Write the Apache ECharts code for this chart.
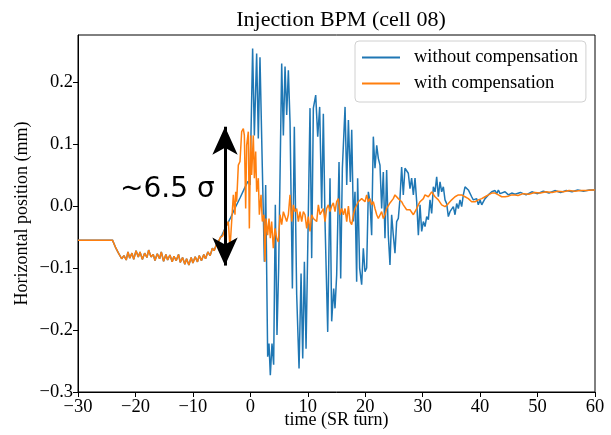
<!DOCTYPE html>
<html lang="en">
<head>
<meta charset="UTF-8">
<title>Injection BPM</title>
<script src="https://cdn.jsdelivr.net/npm/echarts@6/dist/echarts.min.js"></script>
<style>
  html, body { margin: 0; padding: 0; background: #fff; }
  #main { width: 611px; height: 435px; }
</style>
</head>
<body>
<div id="main"></div>
<script type="text/javascript">
// shared drift before the kick (both signals overlap here)
var tBase = [-30, -27, -24, -23.7, -23.4, -23.0, -22.7, -22.4, -22.0, -21.6, -21.3, -21.0, -20.6, -20.3, -19.9, -19.5, -19.2, -18.8, -18.4, -18.0,
  -17.7, -17.3, -16.9, -16.6, -16.2, -15.8, -15.5, -15.1, -14.7, -14.4, -14.0, -13.6, -13.3, -12.9, -12.5, -12.2, -11.8, -11.4, -11.1, -10.7,
  -10.3, -10.0, -9.6, -9.2, -8.9, -8.5, -8.1, -7.8, -7.4, -7.0, -6.6, -6.3];
var vBase = [-0.055, -0.055, -0.055, -0.056, -0.068, -0.075, -0.072, -0.085, -0.080, -0.087, -0.074, -0.084, -0.076, -0.086, -0.072, -0.082, -0.074, -0.086, -0.076, -0.083,
  -0.071, -0.082, -0.078, -0.088, -0.077, -0.085, -0.074, -0.089, -0.078, -0.087, -0.079, -0.090, -0.081, -0.088, -0.078, -0.091, -0.083, -0.094, -0.085, -0.095,
  -0.083, -0.092, -0.082, -0.090, -0.080, -0.088, -0.078, -0.085, -0.074, -0.080, -0.068, -0.072];

// without compensation
var tBlue = [-6.0, -5.5, -4.9, -4.4, -3.5, -2.7, -1.8, -0.9, -0.4, -0.06, 0.40, 0.70, 1.10, 1.39, 1.68, 2.09, 2.44, 2.67, 3.02, 3.25,
  3.48, 3.77, 4.06, 4.35, 4.64, 4.93, 5.46, 5.75, 6.04, 6.33, 6.62, 6.91, 7.32, 7.66, 8.07, 8.48, 8.83, 9.12, 9.41, 9.70,
  10.1, 10.39, 10.68, 10.97, 11.38, 11.73, 12.07, 12.42, 12.71, 13.0, 13.47, 13.87, 14.16, 14.51, 14.74, 15.03, 15.44, 15.73, 16.02, 16.49,
  16.78, 17.07, 17.41, 17.65, 17.94, 18.22, 18.51, 18.68, 19.03, 19.38, 19.67, 19.96, 20.25, 20.54, 20.83, 21.12, 21.41, 21.7, 22.0, 22.28,
  22.57, 22.86, 23.15, 23.44, 23.73, 24.02, 24.31, 24.6, 24.89, 25.18, 25.47, 25.76, 26.05, 26.34, 26.63, 26.92, 27.21, 27.5, 27.79, 28.08,
  28.38, 28.67, 28.96, 29.25, 29.54, 29.83, 30.12, 30.41, 30.7, 30.99, 31.28, 31.57, 31.86, 32.15, 32.44, 32.73, 33.02, 33.31, 33.6, 33.89,
  34.18, 34.47, 34.76, 35.05, 35.34, 35.63, 35.92, 36.21, 36.5, 36.79, 37.08, 37.37, 37.66, 37.95, 38.24, 38.53, 38.82, 39.11, 39.4, 39.69,
  39.98, 40.28, 40.57, 40.86, 41.15, 41.44, 41.73, 42.02, 42.31, 42.6, 42.89, 43.18, 43.47, 43.76, 44.34, 44.92, 45.5, 46.08, 47, 48,
  49, 50, 51, 52, 53, 54, 55, 56, 57, 58, 59, 60];
var vBlue = [-0.064, -0.056, -0.046, -0.036, -0.020, -0.004, 0.013, 0.031, 0.040, 0.034, 0.254, 0.114, 0.246, 0.109, 0.240, 0.061, -0.090, 0.034, -0.243, -0.222,
  -0.273, -0.222, -0.256, 0.002, -0.208, -0.100, 0.230, 0.114, 0.225, 0.147, 0.219, 0.136, -0.133, 0.128, -0.143, -0.262, -0.109, -0.246, -0.090, -0.230,
  -0.009, 0.158, -0.084, 0.158, 0.179, 0.112, 0.160, -0.004, 0.149, -0.025, -0.203, 0.045, -0.186, -0.133, -0.165, -0.111, 0.071, -0.117, 0.061, 0.160,
  0.034, 0.139, 0.039, 0.123, -0.025, 0.023, -0.122, 0.045, -0.100, -0.127, -0.068, -0.106, -0.100, 0.023, 0.007, -0.047, 0.112, 0.061, 0.098, 0.077,
  0.066, -0.004, 0.055, -0.052, 0.058, -0.047, -0.095, -0.014, -0.047, -0.076, -0.025, -0.020, 0.012, 0.063, 0.018, 0.061, 0.063, 0.053, 0.028, 0.045,
  0.018, 0.045, 0.007, -0.047, 0.002, -0.041, -0.025, -0.033, -0.017, -0.022, 0.010, -0.012, 0.031, 0.023, 0.047, 0.015, 0.039, 0.023, 0.031, 0.010,
  0.004, -0.017, -0.009, -0.012, -0.001, -0.014, 0.004, -0.004, 0.010, -0.001, 0.018, 0.031, 0.028, 0.026, 0.023, 0.015, 0.010, 0.007, 0.012, 0.002,
  0.010, 0.002, 0.007, 0.012, 0.010, 0.018, 0.015, 0.023, 0.020, 0.025, 0.020, 0.026, 0.020, 0.018, 0.023, 0.018, 0.021, 0.019, 0.022, 0.018,
  0.023, 0.020, 0.024, 0.021, 0.025, 0.022, 0.025, 0.023, 0.026, 0.024, 0.026, 0.026];

// with compensation
var tOrange = [-5.9, -5.57, -5.2, -4.8, -4.41, -3.83, -3.54, -3.25, -2.96, -2.67, -2.55, -2.38, -2.09, -1.8, -1.51, -1.22, -1.04, -0.81, -0.64, -0.35,
  -0.17, 0.06, 0.23, 0.52, 0.70, 0.93, 1.10, 1.39, 1.57, 1.86, 2.09, 2.38, 2.55, 2.73, 3.02, 3.25, 3.48, 3.71, 4.0, 4.29,
  4.59, 4.88, 5.17, 5.46, 5.75, 6.04, 6.33, 6.62, 6.91, 7.2, 7.49, 7.78, 8.07, 8.36, 8.65, 8.94, 9.23, 9.52, 9.81, 10.1,
  10.39, 10.68, 10.97, 11.26, 11.55, 11.84, 12.13, 12.42, 12.71, 13.0, 13.29, 13.58, 13.87, 14.16, 14.45, 14.74, 15.03, 15.32, 15.61, 15.9,
  16.2, 16.49, 16.78, 17.07, 17.36, 17.65, 17.94, 18.22, 18.8, 19.38, 19.96, 20.25, 20.54, 20.83, 21.12, 21.41, 21.7, 22.0, 22.28, 22.57,
  22.86, 23.15, 23.44, 23.73, 24.02, 24.31, 24.6, 24.89, 25.18, 25.47, 25.76, 26.05, 26.34, 26.63, 26.92, 27.21, 27.5, 27.79, 28.08, 28.38,
  28.67, 28.96, 29.25, 29.54, 29.83, 30.12, 30.41, 30.99, 31.57, 32.15, 32.73, 33.31, 33.89, 34.47, 35.05, 35.63, 36.21, 36.79, 37.37, 37.95,
  38.53, 39.11, 39.69, 40.28, 40.86, 41.44, 42.02, 42.6, 43.18, 43.76, 44.34, 44.92, 45.5, 46.08, 46.6, 47.5, 48.5, 49.5, 50.5, 51.5,
  52.5, 53.5, 54.5, 55.5, 56.5, 57.5, 58.5, 59.5, 60];
var vOrange = [-0.062, -0.058, -0.050, -0.048, -0.036, -0.025, -0.068, -0.025, 0.018, -0.014, 0.023, 0.007, 0.066, 0.072, 0.120, 0.125, 0.114, -0.004, 0.098, 0.120,
  -0.036, 0.114, 0.050, 0.114, 0.045, 0.088, 0.023, 0.045, -0.014, 0.018, -0.025, -0.014, -0.090, -0.020, -0.047, -0.020, -0.052, -0.025, -0.068, -0.036,
  -0.052, -0.058, -0.014, -0.030, -0.009, -0.009, -0.025, -0.014, 0.018, -0.025, 0.002, -0.009, -0.004, -0.025, -0.009, -0.025, -0.009, -0.014, -0.036, -0.017,
  -0.041, -0.014, -0.020, -0.017, -0.025, 0.002, -0.014, -0.012, -0.004, -0.025, -0.004, 0.002, -0.009, 0.000, 0.005, -0.009, 0.007, 0.012, -0.014, -0.004,
  -0.014, -0.004, -0.025, 0.000, -0.025, -0.030, -0.014, -0.004, 0.007, 0.012, 0.007, 0.018, 0.007, 0.012, 0.002, 0.007, -0.004, -0.014, -0.020, -0.017,
  -0.009, -0.020, -0.014, -0.004, -0.004, 0.005, 0.007, 0.012, 0.018, 0.018, 0.012, 0.010, 0.007, 0.002, 0.000, -0.006, -0.009, -0.006, -0.004, -0.014,
  -0.009, -0.004, 0.002, 0.007, 0.010, 0.012, 0.018, 0.015, 0.023, 0.015, 0.010, 0.002, -0.001, 0.004, 0.010, 0.015, 0.018, 0.018, 0.015, 0.012,
  0.007, 0.007, 0.010, 0.012, 0.015, 0.018, 0.021, 0.021, 0.018, 0.015, 0.015, 0.016, 0.018, 0.018, 0.017, 0.020, 0.019, 0.022, 0.021, 0.023,
  0.022, 0.024, 0.023, 0.025, 0.024, 0.025, 0.025, 0.026, 0.026];

var yTicks = [-0.3, -0.2, -0.1, 0.0, 0.1, 0.2];

function pairs(ts, vs) {
  var out = [];
  for (var i = 0; i < ts.length; i++) out.push([ts[i], vs[i]]);
  return out;
}
function minus(s) { return s.replace('-', '\u2212'); }

var blueData = pairs(tBase, vBase).concat(pairs(tBlue, vBlue));
var orangeData = pairs(tBase, vBase).concat(pairs(tOrange, vOrange));

var serif = '"Liberation Serif", "DejaVu Serif", serif';
var myChart = echarts.init(document.getElementById('main'));

myChart.setOption({
  animation: false,
  title: {
    text: 'Injection BPM (cell 08)',
    left: 336,
    textAlign: 'center',
    top: 4,
    textStyle: { fontFamily: serif, fontSize: 22, fontWeight: 'normal', color: '#000' }
  },
  legend: {
    orient: 'vertical',
    left: 355,
    top: 41,
    padding: [7, 8, 9, 7],
    itemGap: 7,
    itemWidth: 38,
    itemHeight: 2,
    icon: 'rect',
    backgroundColor: 'rgba(255,255,255,0.85)',
    borderColor: '#d0d0d0',
    borderWidth: 1,
    borderRadius: 4,
    textStyle: { fontFamily: serif, fontSize: 18.5, color: '#000', padding: [0, 0, 0, 9], lineHeight: 18 },
    data: ['without compensation', 'with compensation']
  },
  grid: { left: 78, right: 16, top: 35, bottom: 43, outerBoundsMode: 'none', show: true, borderColor: '#000', borderWidth: 1, backgroundColor: 'transparent' },
  xAxis: {
    type: 'value',
    min: -30, max: 60, interval: 10,
    name: 'time (SR turn)',
    nameLocation: 'middle',
    nameGap: 19,
    nameMoveOverlap: false,
    nameTextStyle: { fontFamily: serif, fontSize: 18, color: '#000' },
    axisLine: { onZero: false, lineStyle: { color: '#000' } },
    axisTick: { inside: false, length: 5, lineStyle: { color: '#000' } },
    axisLabel: { fontFamily: serif, fontSize: 18.5, color: '#000', margin: 6, formatter: function (v) { return minus(String(v)); } },
    splitLine: { show: false }
  },
  yAxis: {
    type: 'value',
    min: -0.3, max: 0.276, interval: 0.1,
    name: 'Horizontal position (mm)',
    nameLocation: 'middle',
    nameGap: 47,
    nameMoveOverlap: false,
    nameTextStyle: { fontFamily: serif, fontSize: 18, color: '#000' },
    axisLine: { show: true, onZero: false, lineStyle: { color: '#000' } },
    axisTick: { show: true, length: 5, customValues: yTicks, lineStyle: { color: '#000' } },
    axisLabel: { fontFamily: serif, fontSize: 18.5, color: '#000', margin: 5, customValues: yTicks,
      formatter: function (v) { return minus(v.toFixed(1)); } },
    splitLine: { show: false }
  },
  graphic: [{
    type: 'text',
    left: 120,
    top: 176,
    style: { text: '~6.5 \u03c3', font: '28px "DejaVu Sans", sans-serif', fill: '#000' },
    z: 100
  }],
  series: [{
    name: 'without compensation',
    type: 'line',
    showSymbol: false,
    color: '#1f77b4',
    lineStyle: { width: 1.5 },
    data: blueData,
    z: 2
  }, {
    name: 'with compensation',
    type: 'line',
    showSymbol: false,
    color: '#ff7f0e',
    lineStyle: { width: 1.5 },
    data: orangeData,
    z: 3,
    markLine: {
      silent: true,
      symbol: ['arrow', 'arrow'],
      symbolSize: [19, 28],
      label: { show: false },
      lineStyle: { color: '#000', width: 3, type: 'solid' },
      itemStyle: { color: '#000' },
      data: [[{ coord: [-4.41, -0.096] }, { coord: [-4.41, 0.128] }]]
    }
  }]
});
</script>
</body>
</html>
